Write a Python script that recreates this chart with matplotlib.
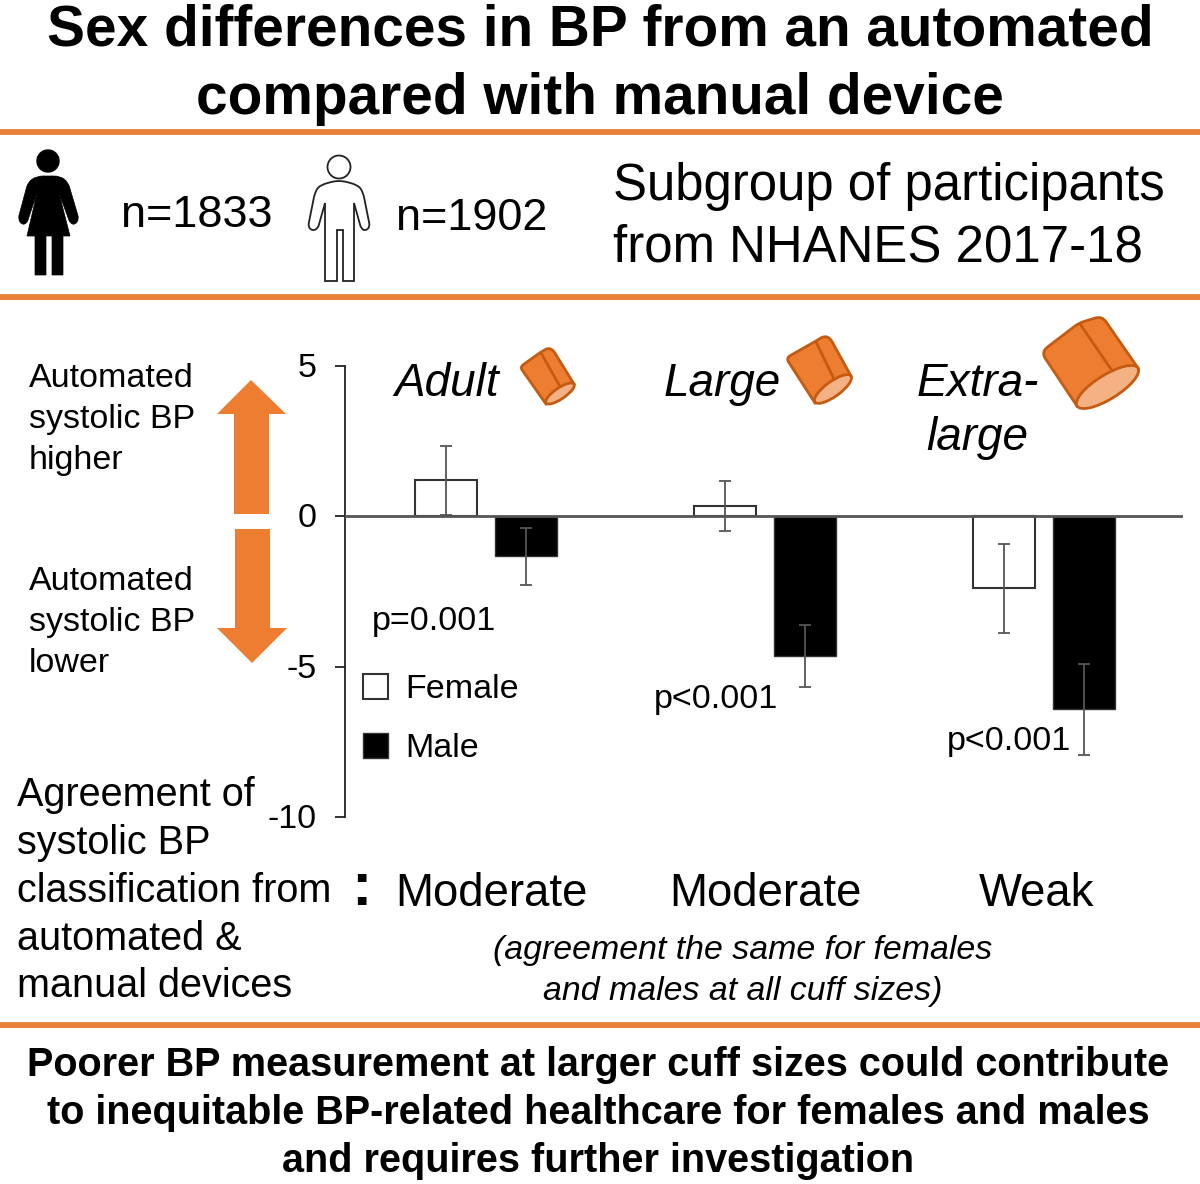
import numpy as np
from matplotlib import pyplot as plt
from matplotlib.patches import Circle, Ellipse, PathPatch, Polygon
from matplotlib.path import Path
from matplotlib.transforms import ScaledTranslation

plt.rcParams["font.family"] = ["Liberation Sans", "DejaVu Sans"]

ORANGE = "#ed7d31"
ORANGE_LINE = "#e8803a"
CUFF_EDGE = "#c55a11"
CUFF_END = "#f4b183"
GREY = "#555555"

W, H = 1200, 1184

cuff_groups = [0, 1, 2]
female_values = [1.2, 0.33, -2.4]
male_values = [-1.33, -4.66, -6.42]
female_errors = [1.15, 0.83, 1.47]
male_errors = [0.95, 1.03, 1.52]
y_ticks = [5, 0, -5, -10]
p_labels = ["p=0.001", "p<0.001", "p<0.001"]
agreement = ["Moderate", "Moderate", "Weak"]

fig = plt.figure(figsize=(W / 100, H / 100), dpi=100)

# Overlay in pixel coordinates for the text and the pictures
bg = fig.add_axes([0, 0, 1, 1])
bg.set_xlim(0, W)
bg.set_ylim(H, 0)
bg.axis("off")


def put(x, y, s, size, ha="left", **kw):
    bg.text(x, y, s, fontsize=size, ha=ha, va="baseline", color="black", **kw)


def rounded(points):
    """Closed path from (x, y, radius) corners"""
    verts, codes = [], []
    n = len(points)
    for i, (x, y, r) in enumerate(points):
        v = np.array([x, y], dtype=float)
        if r == 0:
            verts.append(v)
            codes.append(Path.LINETO)
            continue
        prev = np.array(points[i - 1][:2], dtype=float)
        nxt = np.array(points[(i + 1) % n][:2], dtype=float)
        a = v + (prev - v) * min(r / np.hypot(*(prev - v)), 0.5)
        b = v + (nxt - v) * min(r / np.hypot(*(nxt - v)), 0.5)
        verts += [a, v, b]
        codes += [Path.LINETO, Path.CURVE3, Path.CURVE3]
    codes[0] = Path.MOVETO
    verts.append(verts[0])
    codes.append(Path.CLOSEPOLY)
    return Path(verts, codes)


# Chart axes, placed to line up with the overlay
left, right, top, bottom = 345, 1183, 366, 817
ax = fig.add_axes(
    [left / W, 1 - bottom / H, (right - left) / W, (bottom - top) / H]
)
ax.patch.set_alpha(0)
step = 279
ax.set_xlim((left - 486) / step, (right - 486) / step)
ax.set_ylim(-10, 5)
offset = 40 / step
width = 62 / step
x = np.array(cuff_groups)

ax.bar(
    x - offset, female_values, width, color="white", edgecolor="#333333",
    linewidth=1.5, label="Female",
)
ax.bar(
    x + offset, male_values, width, color="black", edgecolor="#333333",
    linewidth=1, label="Male",
)
ax.errorbar(
    x - offset, female_values, yerr=female_errors, fmt="none", ecolor=GREY,
    elinewidth=1.3, capsize=4.5, capthick=1.3, zorder=4,
)
ax.errorbar(
    x + offset, male_values, yerr=male_errors, fmt="none", ecolor=GREY,
    elinewidth=1.3, capsize=4.5, capthick=1.3, zorder=4,
)
ax.axhline(0, color=GREY, linewidth=2, zorder=5)

for side in ["top", "right", "bottom"]:
    ax.spines[side].set_visible(False)
ax.spines["left"].set_linewidth(1.3)
ax.spines["left"].set_color("#222222")
ax.set_xticks([])
ax.set_yticks(y_ticks)
ax.set_yticklabels([str(t) for t in y_ticks])
ax.tick_params(axis="y", labelsize=24.5, length=7, width=1.3, pad=13.5, color="#222222")
for lab in ax.get_yticklabels():
    lab.set_transform(
        lab.get_transform() + ScaledTranslation(0, 0.8 / 72, fig.dpi_scale_trans)
    )

ax.legend(
    loc="upper left", bbox_to_anchor=(363, 674), bbox_transform=bg.transData,
    frameon=False, fontsize=24.5, borderpad=0, borderaxespad=0,
    handlelength=0.74, handleheight=0.76, handletextpad=0.5, labelspacing=0.8,
)

# Orange rules
for y in [132, 297, 1025]:
    bg.plot([0, W], [y, y], color=ORANGE_LINE, linewidth=4.2, solid_capstyle="butt")

# Title
put(600, 46, "Sex differences in BP from an automated", 40.9, ha="center", weight="bold")
put(600, 114, "compared with manual device", 40.9, ha="center", weight="bold")

# Female figure
bg.add_patch(Circle((48, 161), 11, color="black"))
bg.add_patch(PathPatch(
    rounded(
        [(37, 176, 6), (60, 176, 6), (68, 182, 5), (79, 219, 4), (75, 225, 4),
         (70, 223, 3), (59, 193, 0), (70, 236, 0), (63, 236, 0), (63, 275, 0),
         (52, 275, 0), (52, 236, 0), (46, 236, 0), (46, 275, 0), (35, 275, 0),
         (35, 236, 0), (27, 236, 0), (37, 193, 0), (27, 223, 3), (22, 225, 4),
         (18, 219, 4), (28, 182, 5)]
    ),
    facecolor="black", edgecolor="black", linewidth=0.5,
))
put(121, 227, "n=1833", 32.4)

# Male figure, outline only
bg.add_patch(Circle((339, 167), 11.5, facecolor="white", edgecolor="#222222", linewidth=1.3))
bg.add_patch(PathPatch(
    rounded(
        [(339, 180, 8), (358, 185, 8), (363, 192, 6), (370, 227, 4), (365, 231, 4),
         (361, 228, 3), (354, 203, 0), (354, 281, 0), (343, 281, 0), (343, 230, 0),
         (337, 230, 0), (337, 281, 0), (325, 281, 0), (325, 203, 0), (318, 228, 3),
         (313, 231, 4), (308, 227, 4), (315, 192, 6), (320, 185, 8)]
    ),
    facecolor="white", edgecolor="#222222", linewidth=1.3,
))
put(396, 230, "n=1902", 32.4)

put(613, 200, "Subgroup of participants", 36.7)
put(613, 261, "from NHANES 2017-18", 36.7)

# Direction arrows
bg.add_patch(Polygon(
    [(251, 380), (286, 414), (269, 414), (269, 514), (234, 514), (234, 414), (217, 414)],
    closed=True, facecolor=ORANGE, edgecolor="none",
))
bg.add_patch(Polygon(
    [(235, 529), (270, 529), (270, 628), (287, 628), (252, 663), (217, 628), (235, 628)],
    closed=True, facecolor=ORANGE, edgecolor="none",
))
for yy, s in zip([387, 428, 469], ["Automated", "systolic BP", "higher"]):
    put(29, yy, s, 24.5)
for yy, s in zip([590, 631, 672], ["Automated", "systolic BP", "lower"]):
    put(29, yy, s, 24.5)


def cuff(outline, seam, end_a, end_b, minor):
    bg.add_patch(PathPatch(
        rounded(outline), facecolor=ORANGE, edgecolor=CUFF_EDGE,
        linewidth=2, zorder=3,
    ))
    bg.plot(*zip(*seam), color=CUFF_EDGE, linewidth=2, zorder=4)
    dx, dy = end_b[0] - end_a[0], end_b[1] - end_a[1]
    bg.add_patch(Ellipse(
        ((end_a[0] + end_b[0]) / 2, (end_a[1] + end_b[1]) / 2),
        np.hypot(dx, dy), minor, angle=np.degrees(np.arctan2(dy, dx)),
        facecolor=CUFF_END, edgecolor=CUFF_EDGE, linewidth=2, zorder=5,
    ))


cuff([(520, 367, 4), (541, 352, 4), (548, 348, 3), (553, 350, 3), (574, 384, 0), (546, 404, 0)],
     [(541, 353), (562, 390)], (546, 403), (574, 384), 11)
cuff([(786, 358, 5), (816, 341, 4), (824, 336, 4), (830, 338, 4), (851, 376, 0), (815, 403, 0)],
     [(816, 342), (835, 381)], (815, 402), (851, 376), 15)
cuff([(1041, 352, 8), (1079, 323, 5), (1102, 316, 7), (1138, 368, 0), (1077, 406, 0)],
     [(1080, 324), (1113, 372)], (1077, 406), (1138, 368), 24)

put(394, 396, "Adult", 33, style="italic")
put(664, 396, "Large", 33, style="italic")
put(917, 396, "Extra-", 33, style="italic")
put(926, 450, "large", 33, style="italic")

for px, py, s in zip([372, 654, 947], [630, 708, 750], p_labels):
    put(px, py, s, 24.6)

# Agreement block
block = ["Agreement of", "systolic BP", "classification from", "automated &", "manual devices"]
for yy, s in zip([806, 854, 902, 950, 997], block):
    put(17, yy, s, 28.5)
put(361, 905, ":", 44, ha="center", weight="bold")
for px, s in zip([395, 669, 979], agreement):
    put(px, 906, s, 32.8)
put(743, 959, "(agreement the same for females", 24.4, ha="center", style="italic")
put(743, 1000, "and males at all cuff sizes)", 24.4, ha="center", style="italic")

# Conclusion
put(598, 1076, "Poorer BP measurement at larger cuff sizes could contribute", 28.5, ha="center", weight="bold")
put(598, 1124, "to inequitable BP-related healthcare for females and males", 28.5, ha="center", weight="bold")
put(598, 1172, "and requires further investigation", 28.5, ha="center", weight="bold")

fig.savefig("out.png", dpi=100)
